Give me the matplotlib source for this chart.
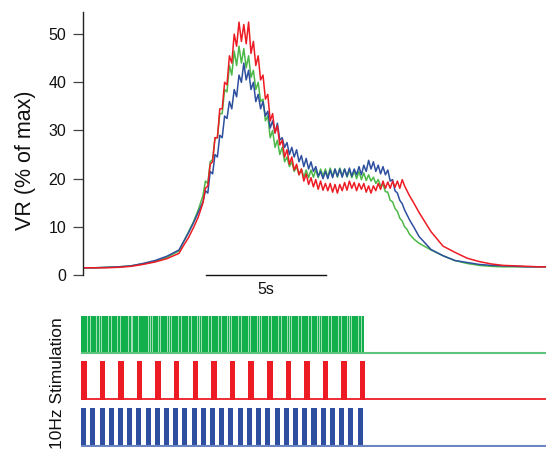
import numpy as np
import matplotlib
matplotlib.use("Agg")
import matplotlib.pyplot as plt

plt.rcParams['font.family'] = ['Liberation Sans', 'DejaVu Sans']

# ---- data ----
# sampling times (s): coarse on the flanks, 0.1 s during the response
t = ([0.0, 0.5, 1.0, 1.5, 2.0, 2.5, 3.0, 3.5, 4.0, 4.2, 4.4, 4.6, 4.8]
     + [round(5.0 + 0.1 * i, 1) for i in range(87)]
     + [13.8, 14.0, 14.5, 15.0, 15.5, 16.0, 16.5, 17.0, 17.5, 18.0, 18.5, 19.0, 19.3])

vr_green = ([1.5, 1.5, 1.6, 1.7, 1.9, 2.3, 2.8, 3.7, 5.0, 7.0, 9.0, 11.0, 13.5]
            + [16.5, 19.5, 19.0, 23.5, 24.0, 28.5, 28.5, 33.5, 33.5, 38.5,
               38.0, 43.5, 41.5, 46.5, 43.5, 47.5, 44.0, 47.0, 43.0, 45.5,
               41.0, 42.5, 38.5, 40.0, 36.0, 36.5, 32.0, 33.0, 28.5, 30.0,
               26.5, 28.0, 25.0, 26.5, 23.5, 24.5, 22.5, 23.5, 21.5, 22.5,
               20.8, 22.0, 20.3, 21.8, 20.2, 21.8, 20.3, 21.8, 20.2, 22.0,
               20.5, 22.0, 20.3, 22.2, 20.5, 22.0, 20.3, 22.2, 20.6, 22.0,
               20.3, 21.8, 20.2, 21.6, 20.0, 21.5, 19.8, 21.2, 19.6, 20.8,
               19.5, 20.3, 19.0, 19.8, 18.5, 18.8, 17.3, 17.2, 15.5, 15.2,
               13.8, 13.2, 11.8, 11.2, 10.0, 9.5, 8.5]
            + [7.4, 6.6, 5.2, 4.0, 3.0, 2.4, 2.0, 1.8, 1.7, 1.7, 1.7, 1.7, 1.7])

vr_blue = ([1.5, 1.5, 1.6, 1.7, 1.9, 2.4, 3.0, 3.9, 5.2, 7.0, 8.8, 10.8, 13.0]
           + [15.2, 17.5, 17.0, 21.5, 21.0, 25.0, 24.5, 29.0, 28.5, 33.0,
              32.5, 36.0, 34.5, 38.5, 37.0, 41.5, 40.0, 44.0, 40.5, 42.5,
              38.5, 40.0, 36.0, 37.5, 34.5, 36.0, 33.0, 34.0, 30.5, 32.0,
              29.5, 31.5, 28.0, 28.5, 26.5, 27.5, 25.0, 26.5, 24.5, 26.0,
              23.5, 24.8, 22.5, 24.2, 22.0, 23.5, 21.5, 22.5, 20.5, 21.5,
              20.0, 21.5, 20.0, 21.8, 20.2, 22.0, 20.5, 22.0, 20.3, 22.0,
              20.5, 22.2, 20.5, 22.0, 20.8, 22.5, 20.8, 22.8, 21.5, 23.8,
              22.0, 23.5, 21.5, 22.8, 21.0, 22.5, 20.8, 21.8, 19.5, 19.8,
              17.5, 17.0, 15.5, 14.8, 13.5, 12.5, 11.5]
           + [9.8, 8.0, 5.3, 4.0, 3.0, 2.6, 2.2, 2.0, 1.9, 1.8, 1.7, 1.7, 1.7])

vr_red = ([1.5, 1.5, 1.5, 1.6, 1.8, 2.2, 2.7, 3.4, 4.5, 6.2, 7.8, 9.8, 12.0]
          + [15.0, 18.0, 18.5, 23.0, 23.5, 28.5, 28.5, 34.5, 34.5, 40.0,
             39.5, 45.5, 44.0, 50.0, 47.5, 52.5, 48.5, 52.0, 48.0, 52.5,
             46.0, 48.5, 43.5, 45.5, 40.5, 41.5, 36.5, 37.5, 32.0, 33.5,
             29.5, 31.0, 27.0, 28.0, 24.5, 26.0, 23.0, 24.5, 21.8, 23.0,
             20.8, 22.0, 19.5, 21.0, 18.8, 20.2, 18.3, 19.8, 17.8, 19.5,
             17.6, 19.0, 17.5, 19.0, 17.2, 18.8, 17.0, 18.8, 17.5, 19.2,
             17.6, 19.5, 18.0, 19.2, 17.5, 19.0, 17.8, 19.0, 17.2, 18.5,
             17.0, 18.5, 17.5, 19.0, 17.8, 19.5, 18.0, 19.3, 18.0, 19.5,
             18.2, 19.5, 18.0, 19.8, 18.5, 17.5, 16.5]
          + [14.8, 13.0, 9.0, 6.0, 4.7, 3.5, 2.8, 2.3, 2.0, 1.9, 1.8, 1.7, 1.7])

yticks = [0, 10, 20, 30, 40, 50]

stim_start = -0.08
green_end = 11.71
green_gaps = [0.17, 0.31, 0.56, 0.67, 0.73, 1.04, 1.15, 1.42, 1.56, 1.88,
              1.98, 2.04, 2.29, 2.71, 2.81, 2.88, 3.13, 3.21, 3.50, 3.60,
              3.67, 3.96, 4.08, 4.38, 4.48, 4.75, 4.83, 4.92, 5.21, 5.33,
              5.63, 5.73, 6.00, 6.08, 6.17, 6.46, 6.58, 6.88, 6.96, 7.25,
              7.35, 7.42, 7.71, 7.83, 8.13, 8.23, 8.50, 8.58, 8.67, 8.96,
              9.08, 9.38, 9.48, 9.75, 9.83, 9.92, 10.21, 10.33, 10.63, 10.73,
              11.00, 11.08, 11.17, 11.46, 11.58]

red_onsets = [-0.08, 0.69, 1.47, 2.24, 3.02, 3.79, 4.57, 5.34, 6.12, 6.89,
              7.67, 8.44, 9.22, 9.99, 10.77, 11.54]
red_width = 0.23

blue_onsets = [-0.08, 0.30, 0.69, 1.07, 1.46, 1.84, 2.22, 2.61, 2.99, 3.38,
               3.76, 4.14, 4.53, 4.91, 5.30, 5.68, 6.06, 6.45, 6.83, 7.22,
               7.60, 7.98, 8.37, 8.75, 9.14, 9.52, 9.90, 10.29, 10.67, 11.06,
               11.44]
blue_width = 0.21

scale_bar = (5.125, 10.125)

# ---- colours ----
c_green_line = '#4cb848'
c_blue_line = '#2d4f9e'
c_red_line = '#ed1c24'
c_green_bar = '#12b04c'
c_red_bar = '#ed1c24'
c_blue_bar = '#2e4f9f'

W, H = 546, 449
fig = plt.figure(figsize=(W / 100, H / 100), dpi=100)

def ax_px(l, top, r, b):
    return fig.add_axes([l / W, 1 - b / H, (r - l) / W, (b - top) / H])

x0, x1 = 0.0, (546 - 83) / 24.0

ax = ax_px(83, 12, 546, 275)
ax.plot(t, vr_green, color=c_green_line, lw=1.1)
ax.plot(t, vr_blue, color=c_blue_line, lw=1.1)
ax.plot(t, vr_red, color=c_red_line, lw=1.1)
ax.set_xlim(x0, x1)
ax.set_ylim(0, 54.6)
for s in ['top', 'right', 'bottom']:
    ax.spines[s].set_visible(False)
ax.spines['left'].set_linewidth(1.0)
ax.spines['left'].set_color('#222222')
ax.set_xticks([])
ax.set_yticks(yticks)
ax.tick_params(axis='y', direction='out', length=7.5, width=0.9, color='#444444',
               labelsize=11.5, pad=4.5, labelcolor='#111111')
ax.plot(scale_bar, [0, 0], color='#111111', lw=1.0, clip_on=False)
ax.text(np.mean(scale_bar), -1.4, '5s', ha='center', va='top', fontsize=11.5,
        color='#111111')

fig.text(25 / W, 1 - 160 / H, 'VR (% of max)', rotation=90, ha='center',
         va='center', fontsize=15.5, color='#111111')

sx0 = x0 - 2 / 24.0
rows = [(315.7, 354.5), (361.0, 400.0), (407.7, 447.0)]

# green
axg = ax_px(81, rows[0][0], 546, rows[0][1])
axg.axvspan(stim_start, green_end, ymin=0.02, ymax=1.0, color=c_green_bar, lw=0)
for g in green_gaps:
    axg.plot([g, g], [0.02, 1.0], color='#a8e0b8', lw=0.7)
axg.plot([stim_start, x1], [0.01, 0.01], color='#5cc47c', lw=1.5)

# red
axr = ax_px(81, rows[1][0], 546, rows[1][1])
for o in red_onsets:
    axr.axvspan(o, o + red_width, ymin=0.0, ymax=1.0, color=c_red_bar, lw=0)
axr.plot([stim_start, x1], [0.01, 0.01], color=c_red_bar, lw=1.3)

# blue
axb = ax_px(81, rows[2][0], 546, rows[2][1])
for o in blue_onsets:
    axb.axvspan(o, o + blue_width, ymin=0.0, ymax=1.0, color=c_blue_bar, lw=0)
axb.plot([stim_start, x1], [0.01, 0.01], color='#6b86c2', lw=1.5)

for a in (axg, axr, axb):
    a.set_xlim(sx0, x1)
    a.set_ylim(-0.02, 1.0)
    a.axis('off')

fig.text(58 / W, 1 - 383 / H, '10Hz Stimulation', rotation=90, ha='center',
         va='center', fontsize=12.5, color='#111111')

fig.savefig('out.png', dpi=100)
